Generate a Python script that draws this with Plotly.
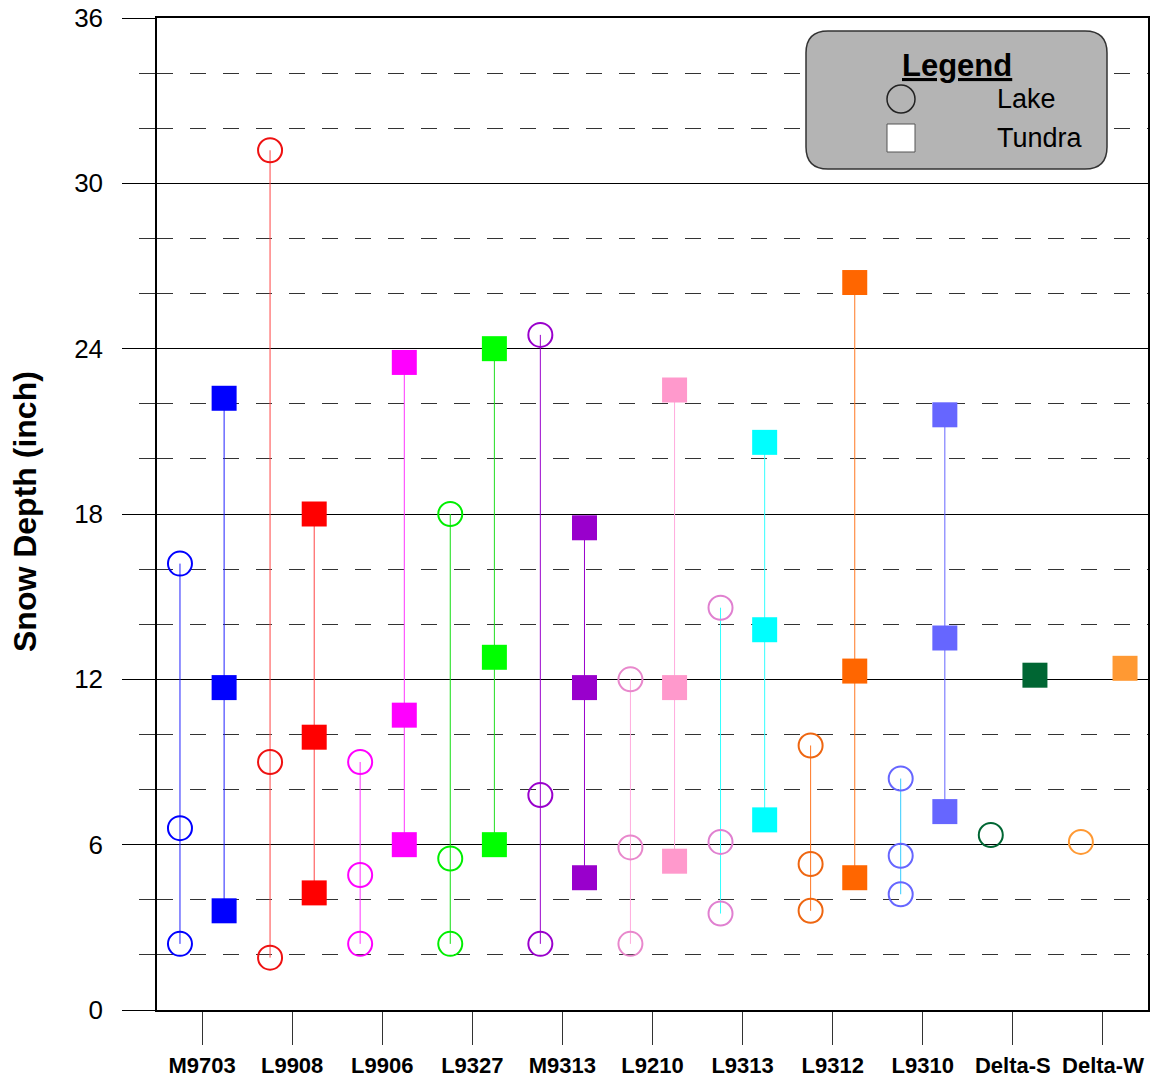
import plotly.graph_objects as go

# ---------------- data ----------------
categories = ["M9703", "L9908", "L9906", "L9327", "M9313", "L9210",
              "L9313", "L9312", "L9310", "Delta-S", "Delta-W"]
lake_depth = [
    [16.2, 6.6, 2.4],
    [31.2, 9.0, 1.9],
    [9.0, 4.9, 2.4],
    [18.0, 5.5, 2.4],
    [24.5, 7.8, 2.4],
    [12.0, 5.9, 2.4],
    [14.6, 6.1, 3.5],
    [9.6, 5.3, 3.6],
    [8.4, 5.6, 4.2],
    [6.35],
    [6.1],
]
tundra_depth = [
    [22.2, 11.7, 3.6],
    [18.0, 9.9, 4.25],
    [23.5, 10.7, 6.0],
    [24.0, 12.8, 6.0],
    [17.5, 11.7, 4.8],
    [22.5, 11.7, 5.4],
    [20.6, 13.8, 6.9],
    [26.4, 12.3, 4.8],
    [21.6, 13.5, 7.2],
    [12.15],
    [12.4],
]
y_ticks = [0, 6, 12, 18, 24, 30, 36]

# ---------------- styles ----------------
lake_marker_colors = ["#0000FF", "#EE1111", "#FF00FF", "#00EE00", "#9900CC", "#E888CC",
                      "#E080D0", "#EE6611", "#6666FF", "#006633", "#FF9933"]
lake_line_colors = ["#2222FF", "#FF4444", "#FF33FF", "#11DD11", "#9900CC", "#FFAADD",
                    "#33FFFF", "#FF7722", "#33CCFF", "#006633", "#FF9933"]
tundra_marker_colors = ["#0000FF", "#FF0000", "#FF00FF", "#00FF00", "#9900CC", "#FF99CC",
                        "#00FFFF", "#FF6600", "#6666FF", "#006633", "#FF9933"]
tundra_line_colors = ["#2222FF", "#FF4444", "#FF33FF", "#22DD22", "#9900CC", "#FFAADD",
                      "#33FFFF", "#FF7722", "#6666FF", "#006633", "#FF9933"]
OFFSET = 0.245
FONT = "Liberation Sans, Arial, sans-serif"

fig = go.Figure()

for i, cat in enumerate(categories):
    lv = sorted(lake_depth[i])
    fig.add_trace(go.Scatter(
        x=[i - OFFSET] * len(lv), y=lv, mode="lines+markers",
        line=dict(color=lake_line_colors[i], width=1),
        marker=dict(symbol="circle-open", size=24,
                    line=dict(color=lake_marker_colors[i], width=2),
                    color=lake_marker_colors[i]),
        showlegend=False, hoverinfo="y", name=cat + " Lake"))
    tv = sorted(tundra_depth[i])
    fig.add_trace(go.Scatter(
        x=[i + OFFSET] * len(tv), y=tv, mode="lines+markers",
        line=dict(color=tundra_line_colors[i], width=1),
        marker=dict(symbol="square", size=25, color=tundra_marker_colors[i],
                    line=dict(width=0)),
        showlegend=False, hoverinfo="y", name=cat + " Tundra"))

# ---------------- layout ----------------
# body margin is removed by the post script, so the figure fills the window
W, H = 1164, 1078
PLOT_L, PLOT_R, PLOT_T, PLOT_B = 157, 1148, 18, 1010   # page coords of plot area
L, T, R, B = PLOT_L, PLOT_T, W - PLOT_R, H - PLOT_B
PW, PH = PLOT_R - PLOT_L, PLOT_B - PLOT_T


def px(x):
    return (x - PLOT_L) / PW


def py(y):
    return (PLOT_B - y) / PH


fig.update_layout(
    width=W, height=H,
    margin=dict(l=L, r=R, t=T, b=B, pad=0, autoexpand=False),
    paper_bgcolor="white", plot_bgcolor="white",
    font=dict(family=FONT, color="black"),
    showlegend=False,
    xaxis=dict(
        range=[-0.5, 10.5],
        tickmode="array",
        tickvals=list(range(len(categories))),
        ticktext=["<b>" + c + "</b>" for c in categories],
        tickfont=dict(size=22, family=FONT, color="black"),
        ticks="outside", ticklen=33, tickwidth=1, tickcolor="#333333",
        showgrid=False, zeroline=False,
        showline=True, linecolor="black", linewidth=1.5, mirror=True,
        ticklabelstandoff=2, automargin=False, ticklabeloverflow="allow",
    ),
    yaxis=dict(
        range=[0, 36],
        tickmode="array", tickvals=y_ticks,
        ticktext=[str(v) for v in y_ticks],
        tickfont=dict(size=26, family=FONT, color="black"),
        ticks="outside", ticklen=33, tickwidth=1, tickcolor="black",
        showgrid=True, gridcolor="black", gridwidth=1,
        zeroline=False,
        showline=True, linecolor="black", linewidth=1.5, mirror=True,
        ticklabelstandoff=14, automargin=False, ticklabeloverflow="allow",
        minor=dict(dtick=2, tick0=0, ticks="outside", ticklen=16,
                   tickcolor="#333333", tickwidth=1,
                   showgrid=True, gridcolor="#333333", gridwidth=1,
                   griddash="16px,17px"),
    ),
)

# y-axis title
fig.add_annotation(
    text="<b>Snow Depth (inch)</b>", textangle=-90,
    xref="paper", yref="paper", x=px(25), y=py(512),
    xanchor="center", yanchor="middle", showarrow=False,
    font=dict(size=32, family=FONT, color="black"))

# ---------------- legend box ----------------
x0, x1, y0, y1, r = 806, 1107, 31, 169, 22
path = (
    f"M {px(x0 + r)} {py(y0)} L {px(x1 - r)} {py(y0)} "
    f"Q {px(x1)} {py(y0)} {px(x1)} {py(y0 + r)} "
    f"L {px(x1)} {py(y1 - r)} "
    f"Q {px(x1)} {py(y1)} {px(x1 - r)} {py(y1)} "
    f"L {px(x0 + r)} {py(y1)} "
    f"Q {px(x0)} {py(y1)} {px(x0)} {py(y1 - r)} "
    f"L {px(x0)} {py(y0 + r)} "
    f"Q {px(x0)} {py(y0)} {px(x0 + r)} {py(y0)} Z"
)
fig.add_shape(type="path", path=path, xref="paper", yref="paper",
              fillcolor="#B4B4B4", line=dict(color="#333333", width=1.5), layer="above")
# circle symbol
cx, cy, rr = 901, 99, 14
fig.add_shape(type="circle", xref="paper", yref="paper",
              x0=px(cx - rr), x1=px(cx + rr), y0=py(cy + rr), y1=py(cy - rr),
              line=dict(color="#222222", width=1.5), fillcolor="rgba(0,0,0,0)", layer="above")
# square symbol
sx, sy, ss = 901, 138, 14
fig.add_shape(type="rect", xref="paper", yref="paper",
              x0=px(sx - ss), x1=px(sx + ss), y0=py(sy + ss), y1=py(sy - ss),
              line=dict(color="#555555", width=1), fillcolor="white", layer="above")

fig.add_annotation(text="<b><u>Legend</u></b>", xref="paper", yref="paper",
                   x=px(957), y=py(66), xanchor="center", yanchor="middle",
                   showarrow=False, font=dict(size=31, family=FONT, color="black"))
fig.add_annotation(text="Lake", xref="paper", yref="paper",
                   x=px(995), y=py(99), xanchor="left", yanchor="middle",
                   showarrow=False, font=dict(size=27, family=FONT, color="black"))
fig.add_annotation(text="Tundra", xref="paper", yref="paper",
                   x=px(995), y=py(138), xanchor="left", yanchor="middle",
                   showarrow=False, font=dict(size=27, family=FONT, color="black"))

fig.write_html("out.html",
               config={"displayModeBar": False},
               post_script="document.body.style.margin='0';"
                           "document.body.style.overflow='hidden';")
